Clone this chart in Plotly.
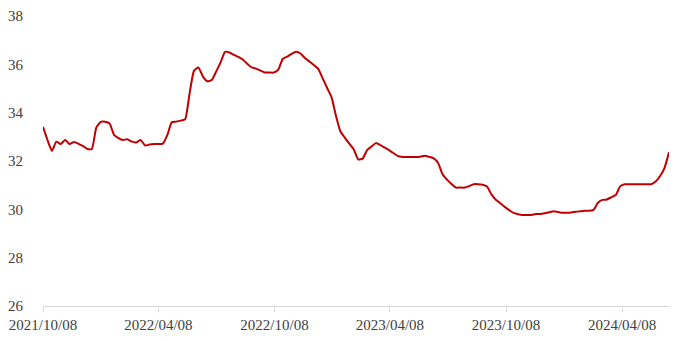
import pandas as pd
import plotly.graph_objects as go

start_date = "2021-10-08"
values = [
    33.41, 32.87, 32.42, 32.80, 32.70, 32.87, 32.70, 32.79, 32.71, 32.62,
    32.50, 32.50, 33.38, 33.62, 33.62, 33.55, 33.08, 32.95, 32.87, 32.90,
    32.80, 32.77, 32.87, 32.64, 32.68, 32.70, 32.70, 32.72, 33.07, 33.60,
    33.63, 33.67, 33.72, 34.77, 35.73, 35.87, 35.50, 35.30, 35.35, 35.70,
    36.08, 36.52, 36.49, 36.39, 36.31, 36.20, 36.02, 35.87, 35.82, 35.74,
    35.66, 35.66, 35.66, 35.78, 36.22, 36.32, 36.43, 36.52, 36.45, 36.26,
    36.12, 35.97, 35.81, 35.42, 35.02, 34.63, 33.86, 33.22, 32.96, 32.72,
    32.48, 32.07, 32.10, 32.45, 32.60, 32.74, 32.66, 32.55, 32.44, 32.32,
    32.20, 32.17, 32.17, 32.17, 32.17, 32.18, 32.22, 32.17, 32.11, 31.92,
    31.45, 31.23, 31.05, 30.90, 30.90, 30.90, 30.96, 31.04, 31.04, 31.02,
    30.95, 30.62, 30.40, 30.25, 30.10, 29.97, 29.85, 29.80, 29.77, 29.77,
    29.77, 29.81, 29.81, 29.84, 29.88, 29.92, 29.89, 29.86, 29.86, 29.87,
    29.90, 29.92, 29.94, 29.94, 29.98, 30.27, 30.39, 30.41, 30.50, 30.59,
    30.95, 31.04, 31.04, 31.04, 31.04, 31.04, 31.04, 31.04, 31.15, 31.38,
    31.72, 32.36,
]
dates = pd.date_range(start=start_date, periods=len(values), freq="7D")

x_tick_vals = ["2021-10-08", "2022-04-08", "2022-10-08", "2023-04-08", "2023-10-08", "2024-04-08"]
x_tick_text = ["2021/10/08", "2022/04/08", "2022/10/08", "2023/04/08", "2023/10/08", "2024/04/08"]
y_ticks = [26, 28, 30, 32, 34, 36, 38]

fig = go.Figure(
    go.Scatter(
        x=dates, y=values, mode="lines",
        line=dict(color="#C00000", width=2, shape="spline", smoothing=0.5),
        hoverinfo="x+y",
    )
)

font = dict(family="Liberation Serif, DejaVu Serif, serif", size=15, color="#404040")

fig.update_layout(
    width=677, height=341,
    margin=dict(l=42, r=8, t=14, b=34),
    paper_bgcolor="white", plot_bgcolor="white",
    showlegend=False,
    font=font,
    xaxis=dict(
        type="date",
        range=[dates[0], dates[-1]],
        tickvals=x_tick_vals, ticktext=x_tick_text,
        showgrid=False, zeroline=False,
        showline=True, linecolor="#D9D9D9", linewidth=1,
        ticks="outside", ticklen=5, tickcolor="#D9D9D9", tickwidth=1,
        tickfont=font,
    ),
    yaxis=dict(
        range=[26, 38], tickvals=y_ticks,
        showgrid=False, zeroline=False, showline=False,
        ticks="outside", ticklen=16, tickcolor="rgba(0,0,0,0)",
        tickfont=font,
    ),
)

fig.write_html("out.html")
